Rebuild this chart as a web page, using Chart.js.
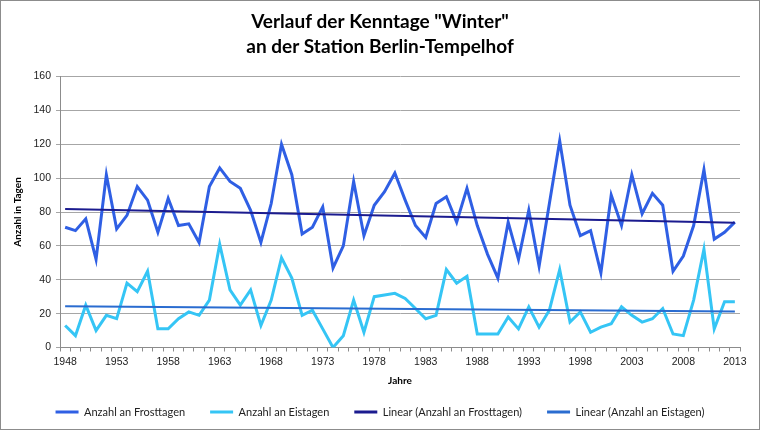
<!DOCTYPE html>
<html>
<head>
<meta charset="utf-8">
<script src="https://cdn.jsdelivr.net/npm/chart.js@4.4.0/dist/chart.umd.min.js"></script>
<style>
  html, body { margin: 0; padding: 0; background: #fff; }
</style>
</head>
<body>
<canvas id="myChart" width="760" height="430"></canvas>
<script>
// Kenntage Berlin-Tempelhof, Werte
const years = [
  1948, 1949, 1950, 1951, 1952, 1953, 1954, 1955, 1956, 1957,
  1958, 1959, 1960, 1961, 1962, 1963, 1964, 1965, 1966, 1967,
  1968, 1969, 1970, 1971, 1972, 1973, 1974, 1975, 1976, 1977,
  1978, 1979, 1980, 1981, 1982, 1983, 1984, 1985, 1986, 1987,
  1988, 1989, 1990, 1991, 1992, 1993, 1994, 1995, 1996, 1997,
  1998, 1999, 2000, 2001, 2002, 2003, 2004, 2005, 2006, 2007,
  2008, 2009, 2010, 2011, 2012, 2013
];
const frostDays = [
  71, 69, 76, 52, 102, 70, 78, 95, 87, 68,
  88, 72, 73, 62, 95, 106, 98, 94, 81, 62,
  85, 120, 102, 67, 71, 83, 47, 60, 98, 66,
  84, 92, 103, 87, 72, 65, 85, 89, 74, 94,
  72, 55, 41, 74, 52, 81, 48, 85, 122, 84,
  66, 69, 44, 90, 72, 102, 79, 91, 84, 45,
  54, 72, 105, 64, 68, 74
];
const iceDays = [
  13, 7, 25, 10, 19, 17, 38, 33, 45, 11,
  11, 17, 21, 19, 28, 61, 34, 25, 34, 13,
  28, 53, 41, 19, 22, 11, 0, 7, 28, 9,
  30, 31, 32, 29, 23, 17, 19, 46, 38, 42,
  8, 8, 8, 18, 11, 24, 12, 22, 46, 15,
  21, 9, 12, 14, 24, 19, 15, 17, 23, 8,
  7, 28, 58, 11, 27, 27
];
const trendYears = [1948, 2013];
const frostTrend = [81.8, 73.6];
const iceTrend = [24.4, 21.3];

const labelYears = [1948, 1953, 1958, 1963, 1968, 1973, 1978, 1983, 1988, 1993, 1998, 2003, 2008, 2013];

function toPoints(xs, ys) {
  return xs.map((x, i) => ({ x: x, y: ys[i] }));
}

const frame = {
  id: 'frame',
  beforeDraw(chart) {
    const ctx = chart.ctx;
    ctx.save();
    ctx.fillStyle = '#fff';
    ctx.fillRect(0, 0, chart.width, chart.height);
    ctx.restore();
  },
  afterDraw(chart) {
    const ctx = chart.ctx;
    ctx.save();
    ctx.strokeStyle = '#8c8c8c';
    ctx.lineWidth = 1;
    ctx.strokeRect(0.5, 0.5, chart.width - 1, chart.height - 1);
    ctx.restore();
  }
};

Chart.defaults.font.family = '"Liberation Sans", Arial, sans-serif';
Chart.defaults.color = '#222';

const ctx = document.getElementById('myChart').getContext('2d');
const myChart = new Chart(ctx, {
  type: 'line',
  data: {
    labels: years,
    datasets: [
      {
        label: 'Anzahl an Frosttagen',
        data: frostDays,
        borderColor: '#2f5fe4',
        backgroundColor: '#2f5fe4',
        borderWidth: 3,
        pointRadius: 0,
        order: 2
      },
      {
        label: 'Anzahl an Eistagen',
        data: iceDays,
        borderColor: '#35c5f5',
        backgroundColor: '#35c5f5',
        borderWidth: 3,
        pointRadius: 0,
        order: 2
      },
      {
        label: 'Linear (Anzahl an Frosttagen)',
        data: toPoints(trendYears, frostTrend),
        xAxisID: 'xt',
        borderColor: '#1b1b8f',
        backgroundColor: '#1b1b8f',
        borderWidth: 2,
        pointRadius: 0,
        order: 1
      },
      {
        label: 'Linear (Anzahl an Eistagen)',
        data: toPoints(trendYears, iceTrend),
        xAxisID: 'xt',
        borderColor: '#2a6cd0',
        backgroundColor: '#2a6cd0',
        borderWidth: 2,
        pointRadius: 0,
        order: 1
      }
    ]
  },
  options: {
    responsive: false,
    animation: false,
    devicePixelRatio: 1,
    layout: { padding: { left: 20, right: 20, top: 0, bottom: 2.5 } },
    plugins: {
      title: {
        display: true,
        text: ['Verlauf der Kenntage "Winter"', 'an der Station Berlin-Tempelhof'],
        color: '#000',
        font: { family: 'Lato', size: 19, weight: 'bold', lineHeight: 25 / 19 },
        padding: { top: 9.5, bottom: 17 }
      },
      legend: {
        position: 'bottom',
        labels: {
          color: '#222',
          font: { family: 'Lato', size: 11 },
          boxWidth: 23,
          boxHeight: 3,
          padding: 25,
          sort: (a, b) => a.datasetIndex - b.datasetIndex,
          generateLabels(chart) {
            const items = Chart.defaults.plugins.legend.labels.generateLabels(chart);
            items.forEach(it => { it.lineWidth = 0; it.fillStyle = it.strokeStyle; });
            return items;
          }
        }
      },
      tooltip: { enabled: false }
    },
    scales: {
      x: {
        type: 'category',
        offset: true,
        afterFit(scale) { scale.height = 34; },
        grid: {
          display: true,
          offset: true,
          drawOnChartArea: false,
          drawTicks: true,
          tickLength: 4,
          color: '#8c8c8c'
        },
        border: { color: '#8c8c8c' },
        ticks: {
          autoSkip: false,
          maxRotation: 0,
          padding: 4,
          font: { size: 10.5 },
          callback(value, index) {
            const y = years[index];
            return labelYears.includes(y) ? String(y) : '';
          }
        },
        title: {
          display: true,
          text: 'Jahre',
          color: '#000',
          font: { family: 'Lato', size: 10, weight: 'bold' },
          padding: { top: 0, bottom: -5.5 }
        }
      },
      xt: {
        type: 'linear',
        display: false,
        min: 1947.5,
        max: 2013.5
      },
      y: {
        min: 0,
        max: 160,
        afterFit(scale) { scale.width = 40; },
        grid: { color: '#a6a6a6', tickLength: 4 },
        border: { color: '#8c8c8c' },
        ticks: { stepSize: 20, padding: 5, font: { size: 10.5 } },
        title: {
          display: true,
          text: 'Anzahl in Tagen',
          color: '#000',
          font: { family: 'Lato', size: 10, weight: 'bold' },
          padding: { top: -8, bottom: 0 }
        }
      }
    }
  },
  plugins: [frame]
});
</script>
</body>
</html>
